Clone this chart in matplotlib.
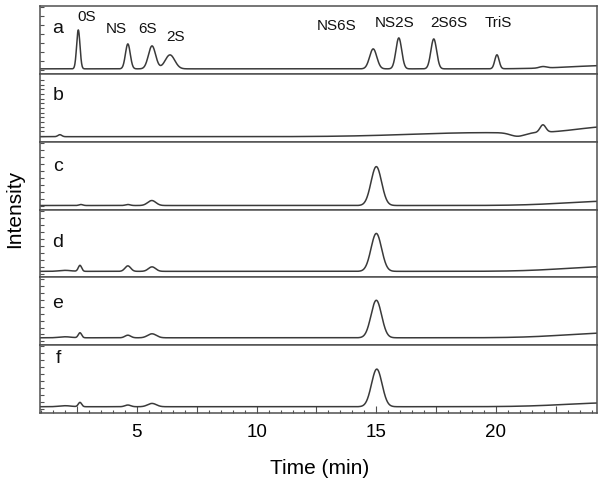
import numpy as np
import matplotlib
matplotlib.use("Agg")
import matplotlib.pyplot as plt
from matplotlib.ticker import MultipleLocator, FuncFormatter, FixedLocator

plt.rcParams['font.family'] = ['Liberation Sans', 'DejaVu Sans']

# ---- data ----
panel_labels = ['a', 'b', 'c', 'd', 'e', 'f']
peak_names = ['0S', 'NS', '6S', '2S', 'NS6S', 'NS2S', '2S6S', 'TriS']
peak_times = [2.55, 4.62, 5.63, 6.38, 14.87, 15.94, 17.40, 20.04]

# baseline level of each trace (intensity units)
baselines = [5, 5, 4, 6, 7.4, 6.3]

# components of each trace: (retention time, height, width sigma)
comp_a_t = [2.55, 4.62, 5.63, 6.38, 14.87, 15.94, 17.40, 20.04, 21.96, 25.0]
comp_a_h = [39, 25, 23, 14, 20, 31, 30, 14, 1.5, 3.5]
comp_a_s = [0.07, 0.10, 0.15, 0.20, 0.15, 0.12, 0.12, 0.09, 0.15, 1.8]

comp_b_t = [1.78, 19.5, 20.9, 21.96, 25.0]
comp_b_h = [2, 4, -3.5, 7.5, 9.5]
comp_b_s = [0.08, 3.0, 0.3, 0.12, 1.6]

comp_c_t = [2.66, 4.62, 5.62, 15.0, 25.0]
comp_c_h = [1, 1, 5, 39, 4.5]
comp_c_s = [0.08, 0.1, 0.17, 0.22, 2.0]

comp_d_t = [2.0, 2.62, 4.62, 5.63, 15.0, 25.0]
comp_d_h = [1, 6, 5.5, 4.5, 38, 5]
comp_d_s = [0.25, 0.07, 0.12, 0.15, 0.22, 2.0]

comp_e_t = [2.0, 2.62, 4.62, 5.63, 15.0, 25.0]
comp_e_h = [1, 5, 2.6, 4, 37.6, 5]
comp_e_s = [0.25, 0.07, 0.12, 0.18, 0.22, 2.0]

comp_f_t = [2.0, 2.62, 4.62, 5.63, 15.02, 25.0]
comp_f_h = [1, 4.3, 1.7, 3.3, 37.7, 4]
comp_f_s = [0.25, 0.07, 0.12, 0.18, 0.22, 2.0]

components = [
    (comp_a_t, comp_a_h, comp_a_s),
    (comp_b_t, comp_b_h, comp_b_s),
    (comp_c_t, comp_c_h, comp_c_s),
    (comp_d_t, comp_d_h, comp_d_s),
    (comp_e_t, comp_e_h, comp_e_s),
    (comp_f_t, comp_f_h, comp_f_s),
]

x_min, x_max = 0.95, 24.22

# ---- layout ----
label_pos_y = [40.7, 42, 38.3, 30.7, 37.7, 49.7]
peak_label_x = [2.91, 4.12, 5.46, 6.63, 13.36, 15.78, 18.04, 20.09]
peak_label_y = [53.3, 40.7, 40.7, 33.3, 44, 47.3, 47.3, 47.3]
ytick_sets = [np.arange(4, 68, 9), np.arange(5.6, 66, 4.7)] + [np.arange(3.7, 68, 7)] * 4

t = np.linspace(x_min, x_max, 3000)

fig = plt.figure(figsize=(6.04, 4.84), dpi=100)
axes = fig.subplots(6, 1, sharex=True, gridspec_kw=dict(hspace=0))
fig.subplots_adjust(left=40/604, right=597/604, bottom=1-413/484, top=1-6/484)

line_col = '#3a3a3a'
spine_col = '#505050'
for i, ax in enumerate(axes):
    ct, ch, cs = components[i]
    y = np.full_like(t, baselines[i], dtype=float)
    for c, h, s in zip(ct, ch, cs):
        y = y + h * np.exp(-0.5 * ((t - c) / s) ** 2)
    ax.plot(t, y, color=line_col, lw=1.1)
    ax.set_xlim(x_min, x_max)
    ax.set_ylim(0, 68)
    for sp in ax.spines.values():
        sp.set_color(spine_col)
        sp.set_linewidth(1.1)
    ax.yaxis.set_major_locator(FixedLocator(ytick_sets[i]))
    ax.set_yticklabels([])
    ax.tick_params(axis='y', which='both', direction='in', length=3, width=0.8,
                   color=spine_col, left=True, right=False)
    ax.tick_params(axis='x', which='both', direction='in', color=spine_col,
                   bottom=(i == 5), top=False, labelbottom=(i == 5))
    ax.text(1.70, label_pos_y[i], panel_labels[i], fontsize=14, ha='center',
            va='baseline', color='#111111')

for name, px, py in zip(peak_names, peak_label_x, peak_label_y):
    axes[0].text(px, py, name, fontsize=11, ha='center', va='baseline', color='#111111')

axb = axes[-1]
axb.xaxis.set_major_locator(MultipleLocator(2.5))
axb.xaxis.set_minor_locator(MultipleLocator(0.5))
axb.xaxis.set_major_formatter(FuncFormatter(
    lambda v, p: f"{int(round(v))}" if abs(v / 5 - round(v / 5)) < 1e-6 else ""))
axb.tick_params(axis='x', which='major', length=5, width=0.8, labelsize=13.5, pad=8)
axb.tick_params(axis='x', which='minor', length=2.5, width=0.8)

fig.text(320/604, 1-468/484, 'Time (min)', fontsize=15, ha='center', va='center')
fig.text(15/604, 1-209/484, 'Intensity', fontsize=15, ha='center', va='center', rotation=90)

fig.savefig('out.png', dpi=100)
